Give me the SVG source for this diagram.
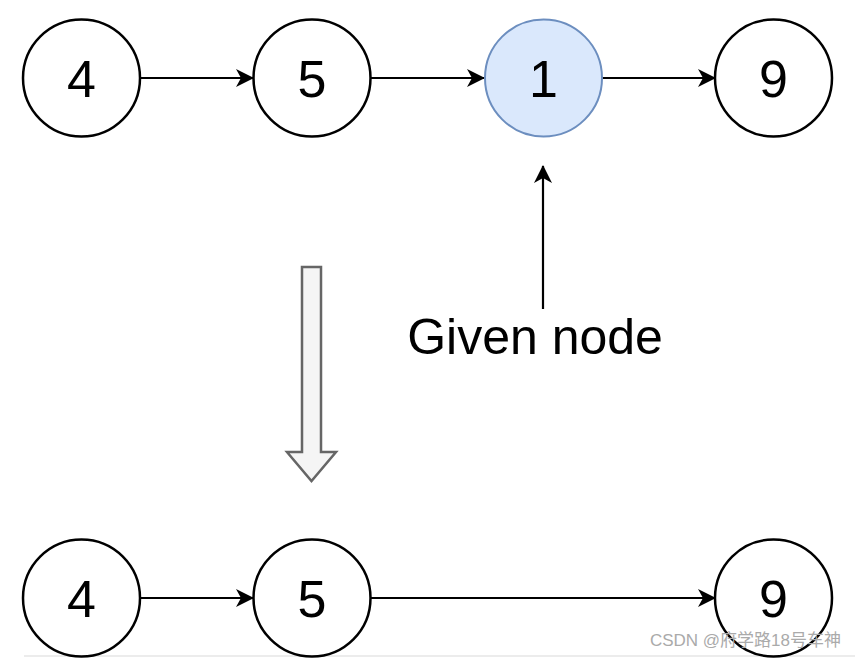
<svg xmlns="http://www.w3.org/2000/svg" width="865" height="664" viewBox="0 0 865 664">
<style>
.n{fill:#fff;stroke:#000;stroke-width:2.5}
.hl{fill:#dae8fc;stroke:#6c8ebf;stroke-width:2}
.t{font-family:"Liberation Sans",Arial,sans-serif;font-size:52px;fill:#000;text-anchor:middle}
.e{stroke:#000;stroke-width:2.2;fill:none}
</style>
<defs>
<marker id="ah" markerUnits="userSpaceOnUse" viewBox="0 0 18 18" refX="17" refY="9" markerWidth="18" markerHeight="18" orient="auto">
<path d="M0,0 L18,9 L0,18 L5,9 Z" fill="#000"/>
</marker>
</defs>
<rect width="865" height="664" fill="#fff"/>
<line x1="24" y1="656" x2="855" y2="656" stroke="#ececec" stroke-width="2"/>
<g id="connectors">
<line class="e" x1="140" y1="78" x2="253" y2="78" marker-end="url(#ah)"/>
<line class="e" x1="371" y1="78" x2="484" y2="78" marker-end="url(#ah)"/>
<line class="e" x1="602" y1="78" x2="715" y2="78" marker-end="url(#ah)"/>
<line class="e" x1="543" y1="309" x2="543" y2="166" marker-end="url(#ah)"/>
<line class="e" x1="140" y1="598" x2="253" y2="598" marker-end="url(#ah)"/>
<line class="e" x1="371" y1="598" x2="715" y2="598" marker-end="url(#ah)"/>
</g>
<g id="n4a"><circle class="n" cx="81.5" cy="78" r="58.5"/><text class="t" x="81.5" y="97">4</text></g>
<g id="n5a"><circle class="n" cx="312" cy="78" r="58.5"/><text class="t" x="312" y="97">5</text></g>
<g id="n1a"><circle class="hl" cx="543.5" cy="78" r="58.5"/><text class="t" x="543.5" y="97">1</text></g>
<g id="n9a"><circle class="n" cx="773.5" cy="78" r="58.5"/><text class="t" x="773.5" y="97">9</text></g>
<g id="label"><text x="535" y="354" font-family="Liberation Sans,Arial,sans-serif" font-size="50" text-anchor="middle" fill="#000">Given node</text></g>
<g id="bigarrow"><path d="M302,267 L321,267 L321,452 L336,452 L311.5,481 L287,452 L302,452 Z" fill="#f5f5f5" stroke="#666" stroke-width="2.5"/></g>
<g id="n4b"><circle class="n" cx="81.5" cy="598" r="58.5"/><text class="t" x="81.5" y="617">4</text></g>
<g id="n5b"><circle class="n" cx="312" cy="598" r="58.5"/><text class="t" x="312" y="617">5</text></g>
<g id="n9b"><circle class="n" cx="773.5" cy="598" r="58.5"/><text class="t" x="773.5" y="617">9</text></g>
<text x="841" y="646" font-family="Liberation Sans,'Noto Sans CJK SC',sans-serif" font-size="17" text-anchor="end" fill="#aaa">CSDN @府学路18号车神</text>
</svg>
